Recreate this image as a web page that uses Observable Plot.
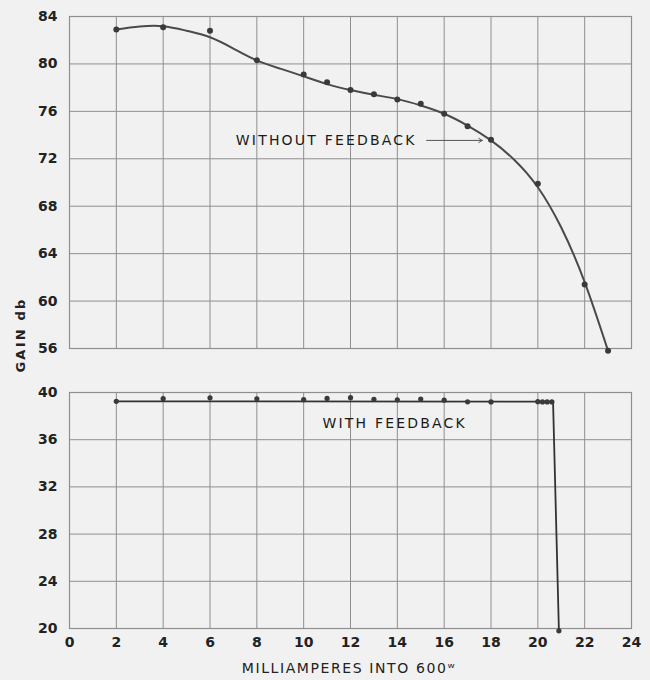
<!DOCTYPE html>
<html>
<head>
<meta charset="utf-8">
<script src="https://cdn.jsdelivr.net/npm/d3@7"></script>
<script src="https://cdn.jsdelivr.net/npm/@observablehq/plot@0.6"></script>
<style>
  body { margin: 0; background: #f1f1f1; }
  #wrap { position: relative; width: 650px; height: 680px; background: #f1f1f1; }
  #wrap svg { display: block; }
  #ylab { position: absolute; left: 20px; top: 335px; transform: translate(-50%, -50%) rotate(-90deg);
          font: bold 13px "DejaVu Sans", sans-serif; letter-spacing: 2.2px; white-space: nowrap; color: #222; }
  #xlab { position: absolute; left: 349px; top: 668px; transform: translate(-50%, -50%);
          font: 14px "DejaVu Sans", sans-serif; letter-spacing: 1.6px; white-space: nowrap; color: #222; }
  .ann text { letter-spacing: 2.2px; }
</style>
</head>
<body>
<div id="wrap">
  <div id="topPanel"></div>
  <div id="bottomPanel"></div>
  <div id="ylab">GAIN db</div>
  <div id="xlab">MILLIAMPERES INTO 600ʷ</div>
</div>
<script>
// ---- data ----
const xTicks = [0, 2, 4, 6, 8, 10, 12, 14, 16, 18, 20, 22, 24];
const topTicks = [56, 60, 64, 68, 72, 76, 80, 84];
const bottomTicks = [20, 24, 28, 32, 36, 40];

// Without feedback: measured points
const withoutMa = [2, 4, 6, 8, 10, 11, 12, 13, 14, 15, 16, 17, 18, 20, 22, 23];
const withoutGain = [82.9, 83.1, 82.8, 80.3, 79.1, 78.45, 77.8, 77.45, 77.0, 76.65, 75.8, 74.75, 73.6, 69.9, 61.4, 55.8];

// Without feedback: drawn smooth curve
const curveMa = [2, 3, 4, 5, 6, 7, 8, 9, 10, 11, 12, 13, 14, 15, 16, 17, 18, 19, 20, 21, 22, 23];
const curveGain = [82.9, 83.15, 83.18, 82.8, 82.25, 81.3, 80.3, 79.6, 78.95, 78.3, 77.8, 77.4, 77.03, 76.5, 75.8, 74.8, 73.55, 71.9, 69.6, 66.2, 61.6, 55.8];

// With feedback: measured points
const withMa = [2, 4, 6, 8, 10, 11, 12, 13, 14, 15, 16, 17, 18, 20, 20.2, 20.4, 20.6, 20.9];
const withGain = [39.25, 39.48, 39.55, 39.46, 39.39, 39.5, 39.56, 39.43, 39.38, 39.45, 39.35, 39.21, 39.2, 39.22, 39.2, 39.2, 39.2, 19.8];

// With feedback: drawn line
const lineMa = [2, 20.65, 20.9];
const lineGain = [39.25, 39.22, 19.8];

// annotations
const topLabel = ["WITHOUT FEEDBACK"];
const topLabelPos = [7.1, 73.55];
const arrowFrom = [15.25, 73.55];
const arrowTo = [17.8, 73.55];
const bottomLabel = ["WITH FEEDBACK"];
const bottomLabelPos = [10.8, 37.35];

// ---- build tables ----
const pts = (xs, ys) => xs.map((x, i) => ({x, y: ys[i]}));
const withoutPts = pts(withoutMa, withoutGain);
const curvePts = pts(curveMa, curveGain);
const withPts = pts(withMa, withGain);
const linePts = pts(lineMa, lineGain);

const gridColor = "#8f8f8f";
const inkColor = "#3a3a3a";
const common = {
  width: 650,
  marginLeft: 69,
  marginRight: 19,
  style: { background: "transparent", fontFamily: "'DejaVu Sans', sans-serif", fontSize: "14px", fontWeight: "bold", color: "#222" }
};

const topChart = Plot.plot({
  ...common,
  height: 370,
  marginTop: 16,
  marginBottom: 22,
  x: { domain: [0, 24], axis: null },
  y: { domain: [56, 84], ticks: topTicks, tickSize: 0, tickPadding: 12, label: null },
  marks: [
    Plot.ruleX(xTicks, { stroke: gridColor, strokeWidth: 1 }),
    Plot.ruleY(topTicks, { stroke: gridColor, strokeWidth: 1 }),
    Plot.frame({ stroke: gridColor, strokeWidth: 1.2 }),
    Plot.line(curvePts, { x: "x", y: "y", curve: "natural", stroke: "#4a4a4a", strokeWidth: 2 }),
    Plot.dot(withoutPts, { x: "x", y: "y", r: 3, fill: inkColor }),
    Plot.text(topLabel, { x: topLabelPos[0], y: topLabelPos[1], text: d => d, textAnchor: "start", fontSize: 14, fontWeight: "normal", fill: "#1a1a1a", className: "ann" }),
    Plot.arrow([0], { x1: arrowFrom[0], y1: arrowFrom[1], x2: arrowTo[0], y2: arrowTo[1], stroke: "#555", strokeWidth: 1, headLength: 6, insetEnd: 4 })
  ]
});

const bottomChart = Plot.plot({
  ...common,
  height: 310,
  marginTop: 22,
  marginBottom: 52,
  x: { domain: [0, 24], ticks: xTicks, tickSize: 0, tickPadding: 9, label: null },
  y: { domain: [20, 40], ticks: bottomTicks, tickSize: 0, tickPadding: 12, label: null },
  marks: [
    Plot.ruleX(xTicks, { stroke: gridColor, strokeWidth: 1 }),
    Plot.ruleY(bottomTicks, { stroke: gridColor, strokeWidth: 1 }),
    Plot.frame({ stroke: gridColor, strokeWidth: 1.2 }),
    Plot.line(linePts, { x: "x", y: "y", stroke: "#333", strokeWidth: 1.8 }),
    Plot.dot(withPts, { x: "x", y: "y", r: 2.6, fill: inkColor }),
    Plot.text(bottomLabel, { x: bottomLabelPos[0], y: bottomLabelPos[1], text: d => d, textAnchor: "start", fontSize: 14, fontWeight: "normal", fill: "#1a1a1a", className: "ann" })
  ]
});

document.getElementById("topPanel").appendChild(topChart);
document.getElementById("bottomPanel").appendChild(bottomChart);
</script>
</body>
</html>
